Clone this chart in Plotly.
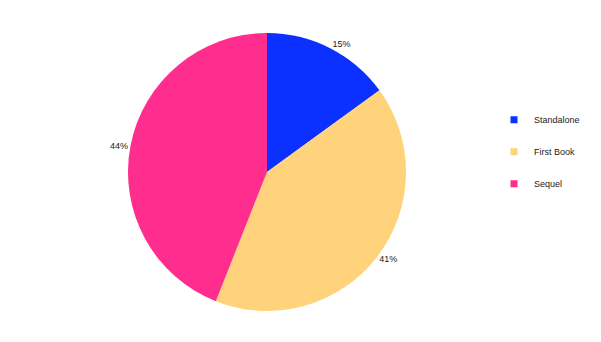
import plotly.graph_objects as go

labels = ["Standalone", "First Book", "Sequel"]
values = [15, 41, 44]
colors = ["#0B30FF", "#FFD37B", "#FF2D8D"]

fig = go.Figure()
fig.add_trace(go.Pie(
    labels=labels, values=values, sort=False, direction="clockwise", rotation=0,
    marker=dict(colors=colors, line=dict(width=0)),
    textinfo="percent", texttemplate="%{percent:.0%}", textposition="outside",
    textfont=dict(family="Liberation Sans", size=9, color="#222222"),
    domain=dict(x=[128/601, 406/601], y=[1-311/342, 1-33/342]),
    showlegend=False, hoverinfo="label+percent",
))
for i, (lab, col) in enumerate(zip(labels, colors)):
    fig.add_trace(go.Scatter(
        x=[None], y=[None], mode="markers", name=lab,
        marker=dict(symbol="square", size=7, color=col),
        legendgroup=f"g{i}", showlegend=True,
    ))

fig.update_layout(
    width=601, height=342, margin=dict(l=0, r=0, t=0, b=0),
    paper_bgcolor="white", plot_bgcolor="white",
    xaxis=dict(visible=False), yaxis=dict(visible=False),
    legend=dict(x=0.822, y=0.556, xanchor="left", yanchor="middle",
                font=dict(family="Liberation Sans", size=9, color="#222222"),
                tracegroupgap=13, itemwidth=30, bgcolor="rgba(0,0,0,0)"),
    font=dict(family="Liberation Sans", size=9),
)
fig.write_html("out.html")
